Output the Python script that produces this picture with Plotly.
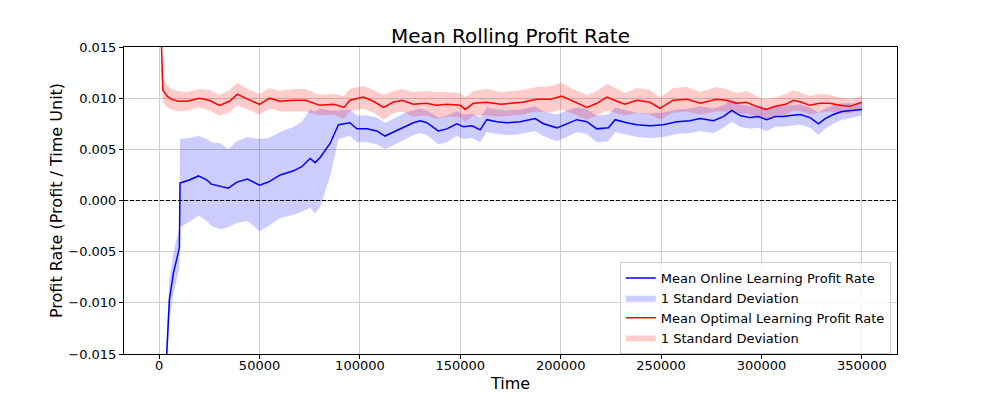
import numpy as np
import plotly.graph_objects as go

# optimal learning (red) - rolling mean and std
t_opt = [500, 1800, 4000, 6000, 9500, 14000, 20000, 25000, 30000, 35000,
         39000, 44000, 50000, 55000, 60000, 67000, 73000, 80000, 87000, 92000,
         95000, 101700, 106700, 111700, 116500, 121000, 126500, 133000, 138000, 143000,
         150000, 152500, 156500, 163000, 170000, 175000, 181000, 188000, 195000, 200500,
         206000, 213000, 218000, 223000, 228000, 232000, 238000, 244500, 249500, 256000,
         263000, 269500, 277500, 282500, 287500, 292500, 297500, 302000, 307000, 312000,
         316000, 320000, 324000, 329000, 334000, 339000, 344000, 350000]
opt_mean = [0.020, 0.0108, 0.0102, 0.0099, 0.0097, 0.0097, 0.0100, 0.0098, 0.0093, 0.0097,
            0.0104, 0.0099, 0.0094, 0.0100, 0.0097, 0.0098, 0.0098, 0.0093, 0.0094, 0.0091,
            0.0098, 0.0101, 0.0097, 0.0091, 0.0096, 0.0098, 0.0094, 0.0095, 0.0093, 0.0094,
            0.0093, 0.0089, 0.0095, 0.0096, 0.0094, 0.0095, 0.0096, 0.0099, 0.0099, 0.0102,
            0.0097, 0.0091, 0.0095, 0.0101, 0.0097, 0.0094, 0.0098, 0.0096, 0.0090, 0.0098,
            0.0099, 0.0095, 0.0099, 0.0098, 0.0095, 0.0096, 0.0092, 0.0089, 0.0092, 0.0094,
            0.0098, 0.0096, 0.0093, 0.0095, 0.0095, 0.0093, 0.0092, 0.0096]
opt_std = [0.0013, 0.0012, 0.0011, 0.0010, 0.0010, 0.0009, 0.0009, 0.0010, 0.0010, 0.0011,
           0.0011, 0.0010, 0.0010, 0.0010, 0.0010, 0.0011, 0.0011, 0.0010, 0.0010, 0.0011,
           0.0011, 0.0011, 0.0011, 0.0012, 0.0011, 0.0011, 0.0012, 0.0012, 0.0013, 0.0012,
           0.0012, 0.0012, 0.0012, 0.0013, 0.0012, 0.0012, 0.0012, 0.0012, 0.0013, 0.0013,
           0.0012, 0.0012, 0.0012, 0.0013, 0.0012, 0.0011, 0.0012, 0.0012, 0.0011, 0.0012,
           0.0012, 0.0011, 0.0012, 0.0011, 0.0010, 0.0011, 0.0010, 0.0010, 0.0009, 0.0010,
           0.0010, 0.0009, 0.0009, 0.0009, 0.0008, 0.0008, 0.0007, 0.0006]

# online learning (blue)
t_online = [3000, 3800, 5100, 7100, 8800, 10100, 10400, 15000, 19600, 23800,
            26000, 30400, 34500, 38700, 44000, 50000, 54400, 60300, 67000, 71000,
            75200, 77700, 80200, 85200, 89300, 95000, 98500, 103400, 108400, 112500,
            116700, 121700, 126600, 130000, 133300, 139000, 143300, 148300, 151600, 155800,
            159900, 163200, 168200, 173100, 179800, 187300, 191400, 198100, 203000, 208000,
            213000, 218000, 223800, 227100, 232900, 237800, 244500, 251100, 257800, 264400,
            269400, 276100, 281000, 285200, 289300, 294300, 298400, 302600, 306800, 311000,
            314300, 319300, 324200, 328400, 331700, 335800, 340000, 345000, 350000]
online_mean = [-0.020, -0.0149, -0.0097, -0.0071, -0.0057, -0.0046, 0.0017, 0.0020, 0.0024, 0.0020,
               0.0016, 0.0014, 0.0012, 0.0018, 0.0021, 0.0015, 0.0018, 0.0025, 0.0029, 0.0033,
               0.0041, 0.0037, 0.0042, 0.0056, 0.0074, 0.0076, 0.0070, 0.0070, 0.0068, 0.0063,
               0.0067, 0.0072, 0.0076, 0.0078, 0.0076, 0.0068, 0.0070, 0.0075, 0.0072, 0.0073,
               0.0069, 0.0079, 0.0077, 0.0076, 0.0077, 0.0080, 0.0075, 0.0071, 0.0075, 0.0079,
               0.0077, 0.0070, 0.0071, 0.0079, 0.0076, 0.0074, 0.0073, 0.0074, 0.0077, 0.0078,
               0.0080, 0.0078, 0.0082, 0.0088, 0.0083, 0.0081, 0.0082, 0.0079, 0.0082, 0.0082,
               0.0083, 0.0084, 0.0081, 0.0075, 0.0080, 0.0084, 0.0087, 0.0088, 0.0089]
online_std = [0.0020, 0.0020, 0.0020, 0.0020, 0.0020, 0.0020, 0.0043, 0.0041, 0.0039, 0.0040,
              0.0041, 0.0042, 0.0038, 0.0040, 0.0041, 0.0045, 0.0043, 0.0042, 0.0043, 0.0044,
              0.0048, 0.0050, 0.0048, 0.0032, 0.0014, 0.0013, 0.0013, 0.0013, 0.0013, 0.0013,
              0.0013, 0.0013, 0.0012, 0.0012, 0.0012, 0.0013, 0.0013, 0.0012, 0.0012, 0.0012,
              0.0012, 0.0012, 0.0012, 0.0012, 0.0012, 0.0012, 0.0012, 0.0013, 0.0013, 0.0012,
              0.0012, 0.0013, 0.0013, 0.0012, 0.0012, 0.0012, 0.0012, 0.0012, 0.0012, 0.0012,
              0.0012, 0.0012, 0.0011, 0.0011, 0.0011, 0.0011, 0.0011, 0.0011, 0.0010, 0.0010,
              0.0010, 0.0010, 0.0010, 0.0011, 0.0010, 0.0009, 0.0008, 0.0007, 0.0006]

y_ticks = [-0.015, -0.010, -0.005, 0.000, 0.005, 0.010, 0.015]
x_ticks = [0, 50000, 100000, 150000, 200000, 250000, 300000, 350000]

FONT = "DejaVu Sans"


def add_band(fig, t, mean, std, fillcolor, rank):
    mean = np.array(mean)
    std = np.array(std)
    fig.add_trace(go.Scatter(x=t, y=mean - std, mode='lines', line=dict(width=0),
                             showlegend=False, hoverinfo='skip'))
    fig.add_trace(go.Scatter(x=t, y=mean + std, mode='lines', line=dict(width=0),
                             fill='tonexty', fillcolor=fillcolor,
                             name='1 Standard Deviation', legendrank=rank))


fig = go.Figure()
add_band(fig, t_online, online_mean, online_std, 'rgba(0,0,255,0.2)', 2)
add_band(fig, t_opt, opt_mean, opt_std, 'rgba(255,0,0,0.2)', 4)
fig.add_trace(go.Scatter(x=t_online, y=online_mean, mode='lines', line=dict(color='blue', width=1.5),
                         name='Mean Online Learning Profit Rate', legendrank=1))
fig.add_trace(go.Scatter(x=t_opt, y=opt_mean, mode='lines', line=dict(color='red', width=1.5),
                         name='Mean Optimal Learning Profit Rate', legendrank=3))

fig.add_hline(y=0, line=dict(color='black', width=1, dash='4px,2px'))

axis_style = dict(showline=True, mirror=True, linecolor='black', linewidth=1,
                  ticks='outside', ticklen=4, tickcolor='black', automargin=False,
                  showgrid=True, gridcolor='#cfcfcf', gridwidth=1, zeroline=False,
                  tickfont=dict(family=FONT, size=13, color='black'))

fig.update_layout(
    width=997, height=399,
    paper_bgcolor='white', plot_bgcolor='white',
    margin=dict(l=124, r=100, t=47, b=45),
    font=dict(family=FONT, color='black'),
    title=dict(text='Mean Rolling Profit Rate', x=0.5, xref='paper', xanchor='center',
               y=1, yref='paper', yanchor='bottom', pad=dict(b=4), automargin=False,
               font=dict(family=FONT, size=20, color='black')),
    xaxis=dict(range=[-17500, 367500], tickvals=x_ticks, tickformat='d', ticklabelstandoff=-5,
               title=dict(text='Time', font=dict(family=FONT, size=16), standoff=6),
               **axis_style),
    yaxis=dict(range=[-0.015, 0.015], tickvals=y_ticks, tickformat='.3f',
               title=dict(text='Profit Rate (Profit / Time Unit)', font=dict(family=FONT, size=16), standoff=1),
               **axis_style),
    legend=dict(x=0.992, y=0.15, xanchor='right', yanchor='middle', traceorder='normal',
                bgcolor='rgba(255,255,255,0.8)', bordercolor='#d0d0d0', borderwidth=1,
                font=dict(family=FONT, size=13), tracegroupgap=0,
                itemwidth=30),
    showlegend=True,
)

# browsers add an 8px body margin; drop it so the figure sits at the page origin
fig.write_html("out.html", config={'displayModeBar': False},
               post_script="document.body.style.margin='0';")
